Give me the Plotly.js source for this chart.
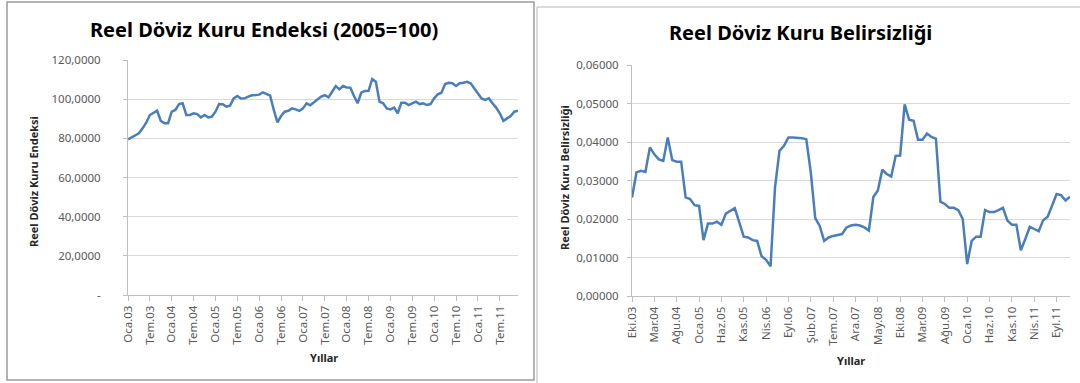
<!DOCTYPE html>
<html>
<head>
<meta charset="utf-8">
<script src="https://cdn.plot.ly/plotly-3.0.1.min.js"></script>
<style>html,body{margin:0;padding:0;background:#fff;}#chart{width:1080px;height:383px;}</style>
</head>
<body>
<div id="chart"></div>
<script>
// Turkish month abbreviations used for the category labels
const monthNames = ['Oca','Şub','Mar','Nis','May','Haz','Tem','Ağu','Eyl','Eki','Kas','Ara'];

// Left chart: Reel Döviz Kuru Endeksi (2005=100), Oca.03 – Ara.11
const leftStart = {year: 2003, month: 0};
const indexValues = [
  79.5, 80.5, 81.2, 82.6, 85.1, 88.0, 91.9, 93.1, 94.1, 88.9,
  87.7, 87.7, 93.6, 94.5, 97.5, 97.9, 91.9, 91.9, 92.8, 92.4,
  90.7, 91.9, 90.7, 91.1, 93.6, 97.5, 97.4, 96.2, 96.7, 100.4,
  101.6, 100.3, 100.4, 101.3, 102.0, 102.1, 102.3, 103.5, 102.6, 101.8,
  94.5, 88.2, 91.4, 93.6, 94.1, 95.3, 94.8, 94.0, 95.3, 97.9,
  96.9, 98.4, 99.9, 101.3, 102.0, 100.9, 103.8, 106.7, 105.0, 106.7,
  106.0, 105.9, 101.6, 97.9, 103.3, 104.2, 104.3, 110.3, 108.9, 98.7,
  97.9, 95.3, 94.8, 95.7, 92.8, 98.2, 98.2, 97.0, 97.9, 98.7,
  97.5, 97.9, 97.0, 97.5, 100.4, 102.5, 103.3, 107.7, 108.4, 108.1,
  106.7, 108.1, 108.4, 108.9, 108.1, 105.5, 103.0, 100.4, 99.6, 100.4,
  97.9, 95.7, 92.8, 88.9, 90.2, 91.4, 93.6, 94.1
];
const leftYTicks = [0, 20, 40, 60, 80, 100, 120];

// Right chart: Reel Döviz Kuru Belirsizliği, Eki.03 – Ara.11
const rightStart = {year: 2003, month: 9};
const uncertaintyValues = [
  0.0256, 0.0321, 0.0325, 0.0322, 0.0386, 0.0368, 0.0355, 0.0351, 0.0412, 0.0353,
  0.0349, 0.0349, 0.0256, 0.0252, 0.0236, 0.0234, 0.0145, 0.0188, 0.0188, 0.0193,
  0.0185, 0.0214, 0.0221, 0.0228, 0.0191, 0.0154, 0.0152, 0.0145, 0.0143, 0.0103,
  0.0094, 0.0077, 0.0282, 0.0377, 0.0390, 0.0412, 0.0412, 0.0411, 0.0410, 0.0407,
  0.0321, 0.0202, 0.0182, 0.0143, 0.0152, 0.0156, 0.0159, 0.0161,
  0.0178, 0.0183, 0.0185, 0.0183, 0.0178, 0.0170, 0.0257, 0.0274, 0.0328, 0.0317,
  0.0310, 0.0364, 0.0365, 0.0498, 0.0458, 0.0455, 0.0406, 0.0406, 0.0422, 0.0413,
  0.0409, 0.0245, 0.0239, 0.0229, 0.0229, 0.0223, 0.0200, 0.0083, 0.0143, 0.0154,
  0.0154, 0.0223, 0.0218, 0.0218, 0.0223, 0.0229, 0.0196, 0.0185, 0.0185, 0.0119,
  0.0148, 0.0180, 0.0174, 0.0168, 0.0197, 0.0206, 0.0235, 0.0265, 0.0262, 0.0248,
  0.0258
];
const rightYTicks = [0, 0.01, 0.02, 0.03, 0.04, 0.05, 0.06];

function monthLabels(start, n) {
  const out = [];
  for (let i = 0; i < n; i++) {
    const m = (start.month + i) % 12;
    const y = start.year + Math.floor((start.month + i) / 12);
    out.push(monthNames[m] + '.' + String(y % 100).padStart(2, '0'));
  }
  return out;
}
const leftCats = monthLabels(leftStart, indexValues.length);
const rightCats = monthLabels(rightStart, uncertaintyValues.length);

const W = 1080, H = 383;
const px = v => v / W;
const py = v => (H - v) / H;

const lineColor = '#4a7ebb';
const tickFont = {family: 'Noto Sans, Open Sans, sans-serif', size: 11.5, color: '#595959'};
const axisLine = '#bfbfbf';
const gridCol = '#d9d9d9';

const traces = [
  {x: leftCats, y: indexValues, type: 'scatter', mode: 'lines', xaxis: 'x', yaxis: 'y',
   line: {color: lineColor, width: 2.5}, hoverinfo: 'x+y'},
  {x: rightCats, y: uncertaintyValues, type: 'scatter', mode: 'lines', xaxis: 'x2', yaxis: 'y2',
   line: {color: lineColor, width: 2.5}, hoverinfo: 'x+y'}
];

const commonX = {
  type: 'category', tickangle: -90, ticks: 'outside', ticklen: 5, tickcolor: axisLine,
  showline: true, linecolor: axisLine, linewidth: 1, showgrid: false, zeroline: false,
  tickfont: tickFont, automargin: false, fixedrange: true
};
const commonY = {
  ticks: 'outside', ticklen: 4, tickcolor: axisLine, showline: true, linecolor: axisLine, linewidth: 1,
  showgrid: true, gridcolor: gridCol, gridwidth: 1, zeroline: false, tickfont: tickFont,
  automargin: false, fixedrange: true
};

const layout = {
  width: W, height: H, margin: {l: 0, r: 0, t: 0, b: 0, pad: 0},
  paper_bgcolor: '#ffffff', plot_bgcolor: 'rgba(0,0,0,0)', showlegend: false,
  separators: ',.',
  font: {family: 'Noto Sans, Open Sans, sans-serif', size: 12, color: '#595959'},
  xaxis: Object.assign({}, commonX, {
    domain: [px(128), px(518)], anchor: 'y', range: [0, leftCats.length - 1],
    tickvals: leftCats.filter((_, i) => i % 6 === 0)
  }),
  yaxis: Object.assign({}, commonY, {
    domain: [py(295), py(60)], anchor: 'x', range: [0, 120],
    tickvals: leftYTicks,
    ticktext: leftYTicks.map(v => v === 0 ? '-' : v.toFixed(4).replace('.', ',')),
    ticklabelstandoff: 20
  }),
  xaxis2: Object.assign({}, commonX, {
    domain: [px(632), px(1070)], anchor: 'y2', range: [0, rightCats.length - 1],
    tickvals: rightCats.filter((_, i) => i % 5 === 0)
  }),
  yaxis2: Object.assign({}, commonY, {
    domain: [py(296), py(65)], anchor: 'x2', range: [0, 0.06],
    tickvals: rightYTicks, tickformat: '.5f', ticklabelstandoff: 6
  }),
  annotations: [
    {text: 'Reel Döviz Kuru Endeksi (2005=100)', xref: 'paper', yref: 'paper',
     x: px(264), y: py(29), xanchor: 'center', yanchor: 'middle', showarrow: false,
     font: {family: 'Noto Sans, sans-serif', size: 20, color: '#000000', weight: 'bold'}},
    {text: 'Reel Döviz Kuru Belirsizliği', xref: 'paper', yref: 'paper',
     x: px(800), y: py(33), xanchor: 'center', yanchor: 'middle', showarrow: false,
     font: {family: 'Noto Sans, sans-serif', size: 20, color: '#000000', weight: 'bold'}},
    {text: 'Reel Döviz Kuru Endeksi', xref: 'paper', yref: 'paper', textangle: -90,
     x: px(33), y: py(182), xanchor: 'center', yanchor: 'middle', showarrow: false,
     font: {family: 'Noto Sans, sans-serif', size: 11, color: '#262626', weight: 'bold'}},
    {text: 'Reel Döviz Kuru Belirsizliği', xref: 'paper', yref: 'paper', textangle: -90,
     x: px(564), y: py(178), xanchor: 'center', yanchor: 'middle', showarrow: false,
     font: {family: 'Noto Sans, sans-serif', size: 11, color: '#262626', weight: 'bold'}},
    {text: 'Yıllar', xref: 'paper', yref: 'paper',
     x: px(324), y: py(357), xanchor: 'center', yanchor: 'middle', showarrow: false,
     font: {family: 'Noto Sans, sans-serif', size: 11, color: '#262626', weight: 'bold'}},
    {text: 'Yıllar', xref: 'paper', yref: 'paper',
     x: px(851), y: py(360), xanchor: 'center', yanchor: 'middle', showarrow: false,
     font: {family: 'Noto Sans, sans-serif', size: 11, color: '#262626', weight: 'bold'}}
  ],
  shapes: [
    {type: 'rect', xref: 'paper', yref: 'paper', x0: px(7), x1: px(534), y0: py(380), y1: py(2),
     line: {color: '#9a9a9a', width: 1.5}, fillcolor: 'rgba(0,0,0,0)'},
    {type: 'line', xref: 'paper', yref: 'paper', x0: px(537), x1: 1, y0: py(7), y1: py(7),
     line: {color: '#cfcfcf', width: 1.5}},
    {type: 'line', xref: 'paper', yref: 'paper', x0: px(537), x1: px(537), y0: 0, y1: py(7),
     line: {color: '#cfcfcf', width: 1.5}}
  ]
};

Plotly.newPlot('chart', traces, layout, {displayModeBar: false, staticPlot: true});
</script>
</body>
</html>
